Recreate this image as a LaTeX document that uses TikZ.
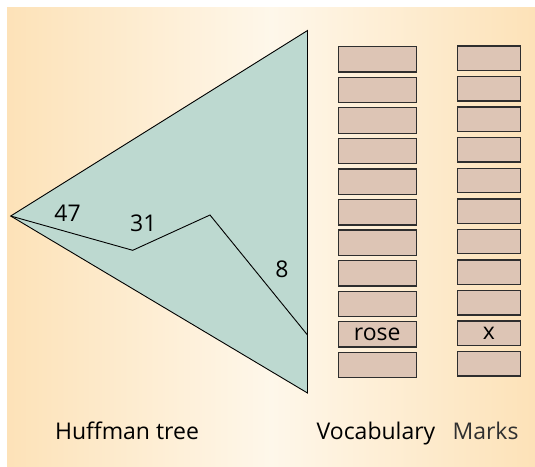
\documentclass[tikz,border=0pt]{standalone}
\usepackage{fontspec}
\setmainfont{Open Sans}
\definecolor{bgside}{HTML}{FDE2B8}
\definecolor{bgmid}{HTML}{FEF7EA}
\definecolor{tri}{HTML}{BDD9D0}
\definecolor{cell}{HTML}{DDC5B5}
\definecolor{cellline}{HTML}{2E2E2E}
\definecolor{marktxt}{HTML}{303030}
\begin{document}
\begin{tikzpicture}[x=1pt,y=-1pt,
  lbl/.style={font=\fontsize{23}{27}\selectfont, inner sep=0pt},
  vcell/.style={draw=cellline, line width=1.3pt, fill=cell, minimum width=78pt, minimum height=25.4pt, inner sep=0pt},
  mcell/.style={draw=cellline, line width=1.3pt, fill=cell, minimum width=63.4pt, minimum height=24.3pt, inner sep=0pt}]
\useasboundingbox (0,0) rectangle (535,466);
\shade[left color=bgside, right color=bgside, middle color=bgmid] (7,7) rectangle (535,466);
% tree
\coordinate (apex) at (10.7,216);
\coordinate (top) at (307.5,30.5);
\coordinate (bot) at (307.5,393);
\coordinate (p1) at (132.7,250.3);
\coordinate (p2) at (210,215);
\coordinate (p3) at (307.5,335);
\draw[fill=tri, line width=0.9pt, line join=miter] (apex) -- (top) -- (bot) -- cycle;
\draw[line width=0.9pt] (apex) -- (p1) -- (p2) -- (p3);
\node[lbl] (n47) at (67.5,213.3) {47};
\node[lbl] (n31) at (143.3,223.7) {31};
\node[lbl] (n8) at (282,269.7) {8};
% columns
\foreach \i in {0,...,10} {
  \node[vcell] (v\i) at (377.2,{59.4+\i*30.56}) {};
  \node[mcell] (m\i) at (489,{58.15+\i*30.57}) {};
}
\node[lbl] (rose) at (v9) {rose};
\node[lbl] (xmark) at (m9) {x};
% captions
\node[lbl, anchor=base] (huff) at (127,439) {Huffman tree};
\node[lbl, anchor=base] (voc) at (376,439) {Vocabulary};
\node[lbl, anchor=base, text=marktxt] (marks) at (485.5,439) {Marks};
\end{tikzpicture}
\end{document}
